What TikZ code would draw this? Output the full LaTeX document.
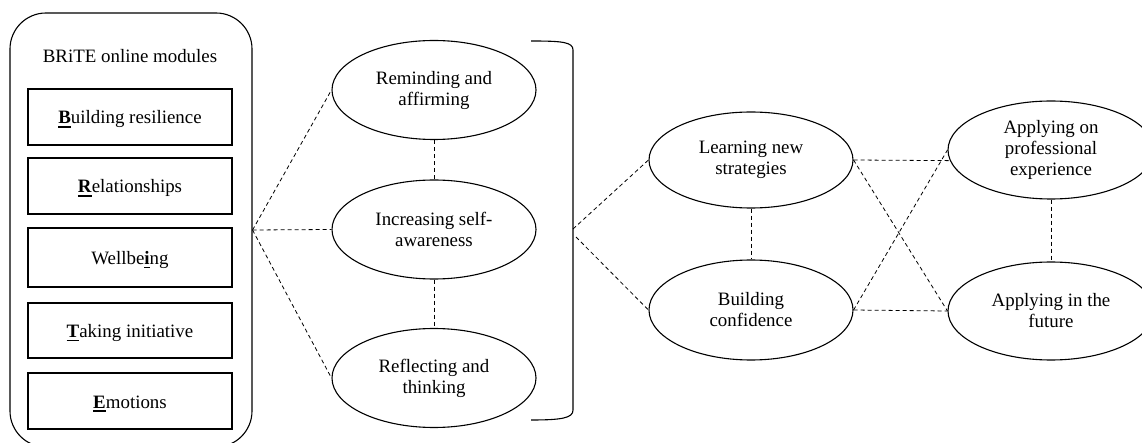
\documentclass[tikz,border=0pt]{standalone}
\usepackage{fontspec}
\setmainfont{Liberation Serif}
\usetikzlibrary{shapes.geometric}
\newcommand{\ulbf}[1]{\setbox0\hbox{\textbf{#1}}\rlap{\rule[-4pt]{\wd0}{1.8pt}}\box0}
\begin{document}
\begin{tikzpicture}[x=1pt,y=-1pt,
  every node/.style={font=\fontsize{18.9}{21}\selectfont},
  solidline/.style={line width=1.1pt},
  ell/.style={ellipse, draw, line width=1.1pt, inner sep=0pt, minimum width=204pt, minimum height=99pt, align=center},
  modbox/.style={draw, line width=1.1pt, minimum width=204pt, minimum height=56pt, inner sep=0pt, text height=14pt, text depth=0pt},
  link/.style={dash pattern=on 4pt off 3pt, line width=0.8pt}]
\useasboundingbox (0,0) rectangle (1142,443);
% left container
\node[draw, line width=1.1pt, rounded corners=36pt, minimum width=242pt, minimum height=434pt, inner sep=0pt] (outer) at (131,230) {};
\node[anchor=base] (title) at (130,63) {BRiTE online modules};
\node[modbox] (m1) at (130,117) {\ulbf{B}uilding resilience};
\node[modbox] (m2) at (130,186) {\ulbf{R}elationships};
\node[modbox, minimum height=59pt] (m3) at (130,257.5) {Wellbe\ulbf{i}ng};
\node[modbox, minimum height=55pt] (m4) at (130,330.5) {\ulbf{T}aking initiative};
\node[modbox] (m5) at (130,401) {\ulbf{E}motions};
% middle column
\node[ell] (e1) at (434,90) {Reminding and\\affirming};
\node[ell] (e2) at (434,229.5) {Increasing self-\\awareness};
\node[ell] (e3) at (434,378) {Reflecting and\\thinking};
% bracket
\draw[solidline] (531,41) .. controls (562,41) and (573,42) .. (573,50) -- (573,410) .. controls (573,418) and (562,420) .. (531,420);
\coordinate (brk) at (573,229);
\coordinate (brkb) at (576,237);
% right part
\node[ell, minimum height=96pt] (learn) at (751,160) {Learning new\\strategies};
\node[ell, minimum height=100pt] (build) at (751,310) {Building\\confidence};
\node[ell, minimum width=206pt, minimum height=98pt] (appon) at (1051,150) {Applying on\\professional\\experience};
\node[ell, minimum width=206pt, minimum height=98pt] (appfut) at (1051,311) {Applying in the\\future};
% connectors
\draw[link] (outer.east) -- (e1.west);
\draw[link] (outer.east) -- (e2.west);
\draw[link] (outer.east) -- (e3.west);
\draw[link] (e1.south) -- (e2.north);
\draw[link] (e2.south) -- (e3.north);
\draw[link] (brk) -- (learn.west);
\draw[link] (brkb) -- (build.west);
\draw[link] (learn.south) -- (build.north);
\draw[link] (appon.south) -- (appfut.north);
\draw[link] (learn.east) -- (appon.186);
\draw[link] (build.east) -- (appfut.west);
\draw[link] (learn.east) -- (appfut.west);
\draw[link] (build.east) -- (appon.west);
\end{tikzpicture}
\end{document}
